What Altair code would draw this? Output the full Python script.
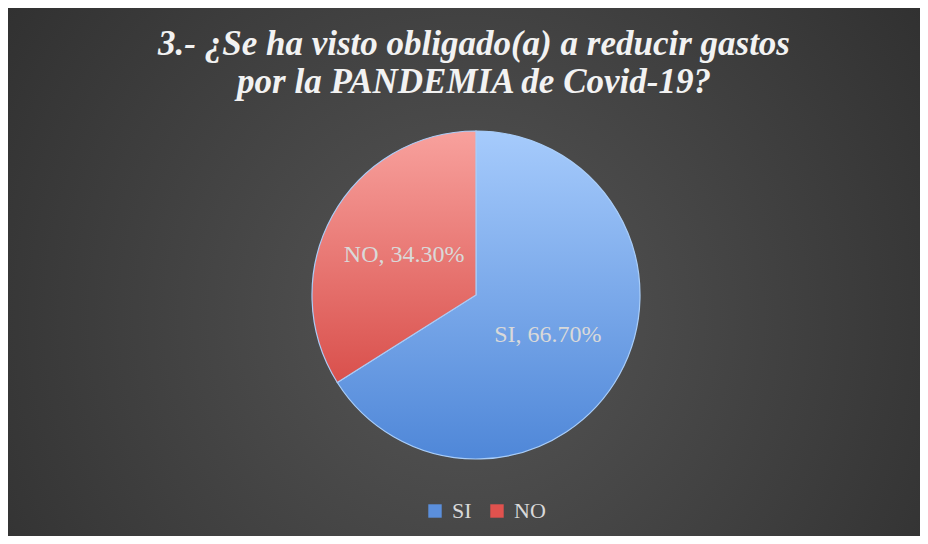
import altair as alt
import pandas as pd

# ---- data ----
categories = ["SI", "NO"]
values = [66.7, 34.3]
labels = ["SI, 66.70%", "NO, 34.30%"]
order = [0, 1]
title_line1 = "3.- ¿Se ha visto obligado(a) a reducir gastos"
title_line2 = "por la PANDEMIA de Covid-19?"

W, H = 912, 528
CX, CY = 468, 287
R = 164
FONT = "Liberation Serif"

df = pd.DataFrame({"cat": categories, "value": values, "label": labels, "order": order})
one = pd.DataFrame({"a": [0]})

bg_grad = alt.RadialGradient(
    gradient="radial",
    stops=[alt.GradientStop(color="#565656", offset=0),
           alt.GradientStop(color="#2a2a2a", offset=1)],
    x1=0.5, y1=0.55, r1=0, x2=0.5, y2=0.55, r2=0.72,
)
bg = alt.Chart(one).mark_rect(color=bg_grad).encode(
    x=alt.value(0), x2=alt.value(W), y=alt.value(0), y2=alt.value(H)
)

theta = alt.Theta("value:Q", stack=True)
ordr = alt.Order("order:Q")

pie_base = alt.Chart(df).mark_arc(radius=R).encode(
    theta=theta,
    order=ordr,
    x=alt.value(CX),
    y=alt.value(CY),
    color=alt.Color(
        "cat:N",
        scale=alt.Scale(domain=categories, range=["#5b8fdc", "#e0524e"]),
        legend=alt.Legend(
            title=None,
            orient="none",
            legendX=416,
            legendY=492,
            direction="horizontal",
            symbolType="square",
            symbolSize=180,
            symbolStrokeWidth=0,
            labelFont=FONT,
            labelFontSize=22,
            labelColor="#d9d9d9",
            labelOffset=6,
            columnPadding=14,
        ),
    ),
)

grad_si = alt.LinearGradient(
    gradient="linear",
    stops=[alt.GradientStop(color="#a6cbfc", offset=0),
           alt.GradientStop(color="#4f87d8", offset=1)],
    x1=0, y1=0, x2=0, y2=1,
)
grad_no = alt.LinearGradient(
    gradient="linear",
    stops=[alt.GradientStop(color="#f8a19d", offset=0),
           alt.GradientStop(color="#d9504c", offset=1)],
    x1=0, y1=0, x2=0, y2=1,
)

pie_fill = alt.Chart(df).mark_arc(radius=R, stroke="#a9cdf8", strokeWidth=1.2).encode(
    theta=theta,
    order=ordr,
    x=alt.value(CX),
    y=alt.value(CY),
    fill=alt.condition("datum.cat === 'SI'", alt.value(grad_si), alt.value(grad_no)),
)

pie_labels = alt.Chart(df).mark_text(
    radius=82, font=FONT, fontSize=24, color="#d9d9d9", align="center", baseline="middle"
).encode(
    theta=theta,
    order=ordr,
    x=alt.value(CX),
    y=alt.value(CY),
    text="label:N",
)

t1 = alt.Chart(one).mark_text(
    font=FONT, fontSize=35, fontWeight="bold", fontStyle="italic", color="#f2f2f2",
    align="center", baseline="alphabetic"
).encode(x=alt.value(466), y=alt.value(47), text=alt.value(title_line1))
t2 = alt.Chart(one).mark_text(
    font=FONT, fontSize=35, fontWeight="bold", fontStyle="italic", color="#f2f2f2",
    align="center", baseline="alphabetic"
).encode(x=alt.value(466), y=alt.value(85), text=alt.value(title_line2))

chart = alt.layer(bg, pie_base, pie_fill, pie_labels, t1, t2).properties(
    width=W, height=H, padding=0, autosize=alt.AutoSizeParams(type="none"),
    background="#2b2b2b",
).configure_view(stroke=None)

chart.save("out.html", embed_options={"renderer": "svg", "actions": False})
